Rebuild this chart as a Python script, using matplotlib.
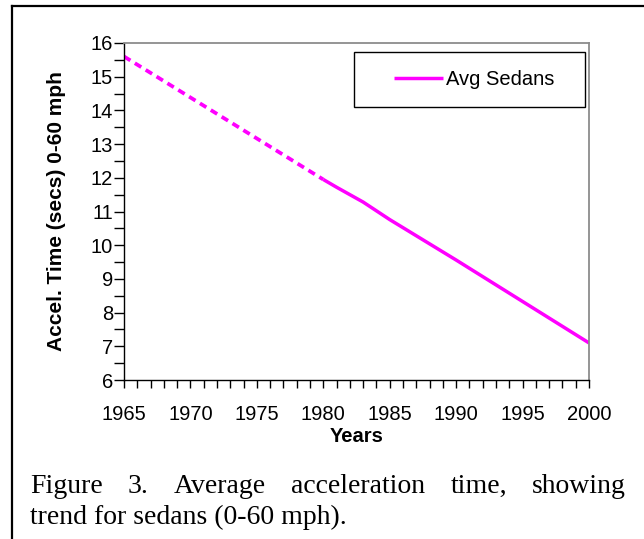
import matplotlib
matplotlib.use('Agg')
import matplotlib.pyplot as plt
from matplotlib.lines import Line2D
from matplotlib.patches import Rectangle
from matplotlib.ticker import MultipleLocator

# values
years_dashed = [1965, 1980]
accel_dashed = [15.6, 11.95]
years_solid = [1980, 1981, 1983, 1985, 1990, 1995, 2000]
accel_solid = [11.95, 11.72, 11.28, 10.76, 9.56, 8.33, 7.1]

x_ticks = [1965, 1970, 1975, 1980, 1985, 1990, 1995, 2000]
y_ticks = [6, 7, 8, 9, 10, 11, 12, 13, 14, 15, 16]
series_name = 'Avg Sedans'
x_title = 'Years'
y_title = 'Accel. Time (secs) 0-60 mph'
caption_1 = 'Figure 3. Average acceleration time, showing'
caption_2 = 'trend for sedans (0-60 mph).'

W, H = 644, 539


def fx(px):
    return px / W


def fy(py):
    return 1 - py / H


plt.rcParams['font.family'] = ['Liberation Sans', 'DejaVu Sans']

fig = plt.figure(figsize=(W / 100, H / 100), dpi=100)
fig.patch.set_facecolor('white')

# plot area in pixels: x 124..589, y 43..380
ax = fig.add_axes([fx(124), fy(380), (589 - 124) / W, (380 - 43) / H])

ax.plot(years_dashed, accel_dashed, color='#ff00ff', lw=2.7,
        linestyle=(0, (2.0, 1.4)), dash_capstyle='butt', label='_nolegend_')
ax.plot(years_solid, accel_solid, color='#ff00ff', lw=2.5,
        solid_capstyle='butt', label=series_name)

ax.set_xlim(1965, 2000)
ax.set_ylim(6, 16)
ax.set_xticks(x_ticks)
ax.set_yticks(y_ticks)
ax.xaxis.set_minor_locator(MultipleLocator(1))
ax.yaxis.set_minor_locator(MultipleLocator(0.5))

ax.tick_params(axis='x', which='both', direction='out', length=6, width=1,
               labelsize=14.5, pad=12, colors='black')
ax.tick_params(axis='y', which='both', direction='out', length=7, width=1,
               labelsize=14.5, pad=1, colors='black')

for s in ['left', 'bottom']:
    ax.spines[s].set_color('black')
    ax.spines[s].set_linewidth(1)
for s in ['top', 'right']:
    ax.spines[s].set_color('#8c8c8c')
    ax.spines[s].set_linewidth(1.3)

ax.set_xlabel(x_title, fontsize=14.5, fontweight='bold')
ax.xaxis.label.set_verticalalignment('center')
ax.xaxis.set_label_coords(0.5, (380 - 437) / 337)

ax.set_ylabel(y_title, fontsize=15, fontweight='bold')
ax.yaxis.label.set_verticalalignment('center')
ax.yaxis.set_label_coords((57 - 124) / 465, 0.5)

# legend: box 354..585 x 52..107
box = Rectangle((fx(354), fy(107)), (585 - 354) / W, (107 - 52) / H,
                transform=fig.transFigure, facecolor='white',
                edgecolor='black', lw=1, zorder=4, clip_on=False)
ax.add_patch(box)
leg = ax.legend(frameon=False, loc='center left',
                bbox_to_anchor=(fx(394), fy(79.5)),
                bbox_transform=fig.transFigure, borderpad=0,
                borderaxespad=0, handlelength=2.45, handletextpad=0.15,
                fontsize=14.5)
leg.set_zorder(5)

# outer frame (left and top edges are visible in the picture)
fig.add_artist(Line2D([fx(12), fx(12)], [fy(6), 0], transform=fig.transFigure,
                      color='black', lw=1.6))
fig.add_artist(Line2D([fx(12), 1], [fy(6), fy(6)], transform=fig.transFigure,
                      color='black', lw=1.6))


# caption, first line justified
def justified(text, y, x0, x1, **kw):
    words = text.split()
    r = fig.canvas.get_renderer()
    arts = [fig.text(0, fy(y), w, va='baseline', **kw) for w in words]
    widths = [a.get_window_extent(r).width for a in arts]
    gap = ((x1 - x0) - sum(widths)) / (len(words) - 1)
    x = x0
    for a, w in zip(arts, widths):
        a.set_x(fx(x))
        x += w + gap


cap_kw = dict(fontsize=20, family=['Liberation Serif', 'DejaVu Serif'],
              color='black')
justified(caption_1, 493, 30, 626, **cap_kw)
fig.text(fx(30), fy(524), caption_2, va='baseline', **cap_kw)

fig.savefig('out.png', dpi=100)
